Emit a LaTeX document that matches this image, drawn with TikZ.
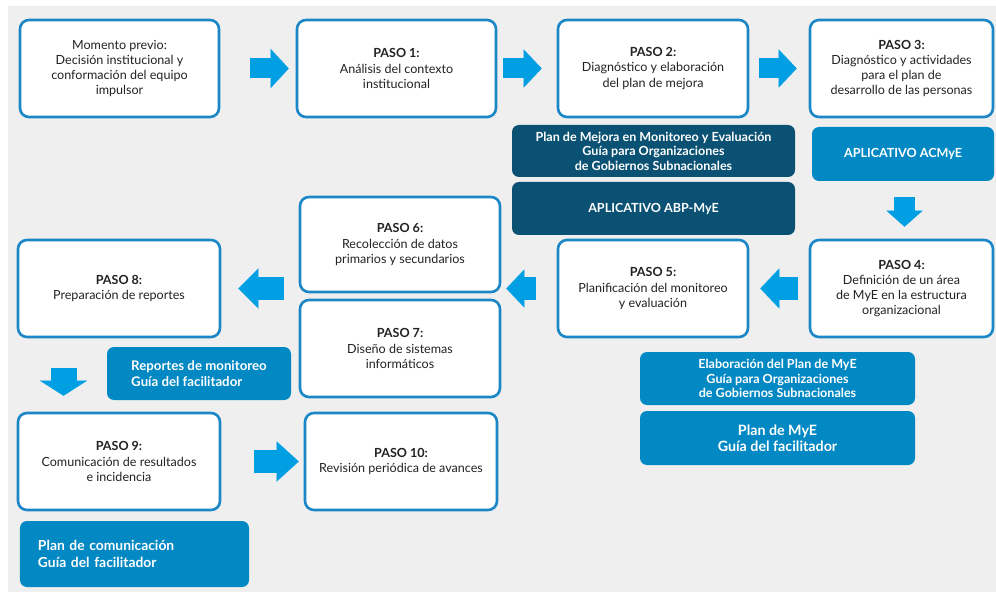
\documentclass[tikz,border=0pt]{standalone}
\usepackage{fontspec}
\setmainfont{Lato}
\usetikzlibrary{arrows.meta}
\definecolor{bggray}{HTML}{EFEFEF}
\definecolor{stepblue}{HTML}{1B87C7}
\definecolor{arrowblue}{HTML}{009FE3}
\definecolor{darkteal}{HTML}{0B5173}
\definecolor{midblue}{HTML}{0288C3}
\definecolor{txt}{HTML}{222222}
\begin{document}
\begin{tikzpicture}[x=1bp,y=-1bp,
  stepbox/.style={draw=stepblue, line width=2.6bp, fill=white, rounded corners=9bp,
    align=center, text=txt, font=\fontsize{12.6}{15.2}\selectfont, inner sep=2bp},
  infobox/.style={fill=#1, rounded corners=7bp, align=center, text=white,
    font=\bfseries\fontsize{12.6}{14.6}\selectfont, inner sep=2bp},
  blockarrow/.style n args={3}{draw=arrowblue, line width=#1,
    -{Triangle[width=#2,length=#3,line width=0.01bp]}}
]
\useasboundingbox (0,0) rectangle (996,592);
\fill[bggray] (8,6) rectangle (996,592);

% step boxes
\node[stepbox, minimum width=199bp, minimum height=97bp] (m0) at (119.5,68.5)
  {Momento previo:\\Decisión institucional y\\conformación del equipo\\impulsor};
\node[stepbox, minimum width=199bp, minimum height=97bp] (p1) at (396.5,68.5)
  {\textbf{PASO 1:}\\Análisis del contexto\\institucional};
\node[stepbox, minimum width=190bp, minimum height=97bp] (p2) at (653,68.5)
  {\textbf{PASO 2:}\\Diagnóstico y elaboración\\del plan de mejora};
\node[stepbox, minimum width=183bp, minimum height=97bp] (p3) at (901.5,68.5)
  {\textbf{PASO 3:}\\Diagnóstico y actividades\\para el plan de\\desarrollo de las personas};
\node[stepbox, minimum width=183bp, minimum height=97bp] (p4) at (901.5,288.5)
  {\textbf{PASO 4:}\\Definición de un área\\de MyE en la estructura\\organizacional};
\node[stepbox, minimum width=190bp, minimum height=97bp] (p5) at (653,288.5)
  {\textbf{PASO 5:}\\Planificación del monitoreo\\y evaluación};
\node[stepbox, minimum width=200bp, minimum height=95bp] (p6) at (400,244.5)
  {\textbf{PASO 6:}\\Recolección de datos\\primarios y secundarios};
\node[stepbox, minimum width=200bp, minimum height=97bp] (p7) at (400,348.5)
  {\textbf{PASO 7:}\\Diseño de sistemas\\informáticos};
\node[stepbox, minimum width=202bp, minimum height=97bp] (p8) at (119,288.5)
  {\textbf{PASO 8:}\\Preparación de reportes};
\node[stepbox, minimum width=202bp, minimum height=97bp] (p9) at (119,461.5)
  {\textbf{PASO 9:}\\Comunicación de resultados\\e incidencia};
\node[stepbox, minimum width=192bp, minimum height=97bp] (p10) at (401,461.5)
  {\textbf{PASO 10:}\\Revisión periódica de avances};

% info boxes
\node[infobox=darkteal, minimum width=283bp, minimum height=52bp] (d1) at (653.5,151)
  {Plan de Mejora en Monitoreo y Evaluación\\Guía para Organizaciones\\de Gobiernos Subnacionales};
\node[infobox=darkteal, minimum width=283bp, minimum height=53bp] (d2) at (653.5,208.5)
  {APLICATIVO ABP-MyE};
\node[infobox=midblue, minimum width=182bp, minimum height=54bp] (acm) at (903,154)
  {APLICATIVO ACMyE};
\node[infobox=midblue, minimum width=184bp, minimum height=53bp, align=left,
  font=\bfseries\fontsize{13.3}{15.5}\selectfont] (rep) at (199,373.5)
  {Reportes de monitoreo\\Guía del facilitador};
\node[infobox=midblue, minimum width=275bp, minimum height=53bp] (elab) at (777.5,378.5)
  {Elaboración del Plan de MyE\\Guía para Organizaciones\\de Gobiernos Subnacionales};
\node[infobox=midblue, minimum width=275bp, minimum height=54bp,
  font=\bfseries\fontsize{14.3}{16.5}\selectfont] (plan) at (777.5,438)
  {Plan de MyE\\Guía del facilitador};
\node[infobox=midblue, text width=193bp, inner xsep=18bp, minimum height=66bp, align=left,
  font=\bfseries\fontsize{13.9}{16.5}\selectfont] (com) at (134.5,554)
  {Plan de comunicación\\Guía del facilitador};

% block arrows
\draw[blockarrow={20bp}{39bp}{18bp}, shorten <=30bp, shorten >=7bp] (m0) -- (p1);
\draw[blockarrow={20bp}{38bp}{18bp}, shorten <=6bp, shorten >=15bp] (p1) -- (p2);
\draw[blockarrow={20bp}{38bp}{18bp}, shorten <=10bp, shorten >=12bp] (p2) -- (p3);
\coordinate (cd) at (904.5,0);
\draw[blockarrow={21bp}{36bp}{16bp}, shorten <=16bp, shorten >=12bp]
  (acm.south -| cd) -- (p4.north -| cd);
\draw[blockarrow={23bp}{40bp}{19bp}, shorten <=11bp, shorten >=11bp] (p4) -- (p5);
\draw[blockarrow={23bp}{38bp}{18bp}, shorten <=21bp, shorten >=5bp]
  (p5.west) -- (p5.west -| p6.east);
\draw[blockarrow={23bp}{40bp}{20bp}, shorten <=15bp, shorten >=17bp]
  (p8.east -| p6.west) -- (p8.east);
\coordinate (cx) at (63.5,0);
\draw[blockarrow={26bp}{47bp}{15bp}, shorten <=30bp, shorten >=16bp]
  (p8.south -| cx) -- (p9.north -| cx);
\draw[blockarrow={23bp}{40bp}{22bp}, shorten <=33bp, shorten >=5bp] (p9) -- (p10);
\end{tikzpicture}
\end{document}
